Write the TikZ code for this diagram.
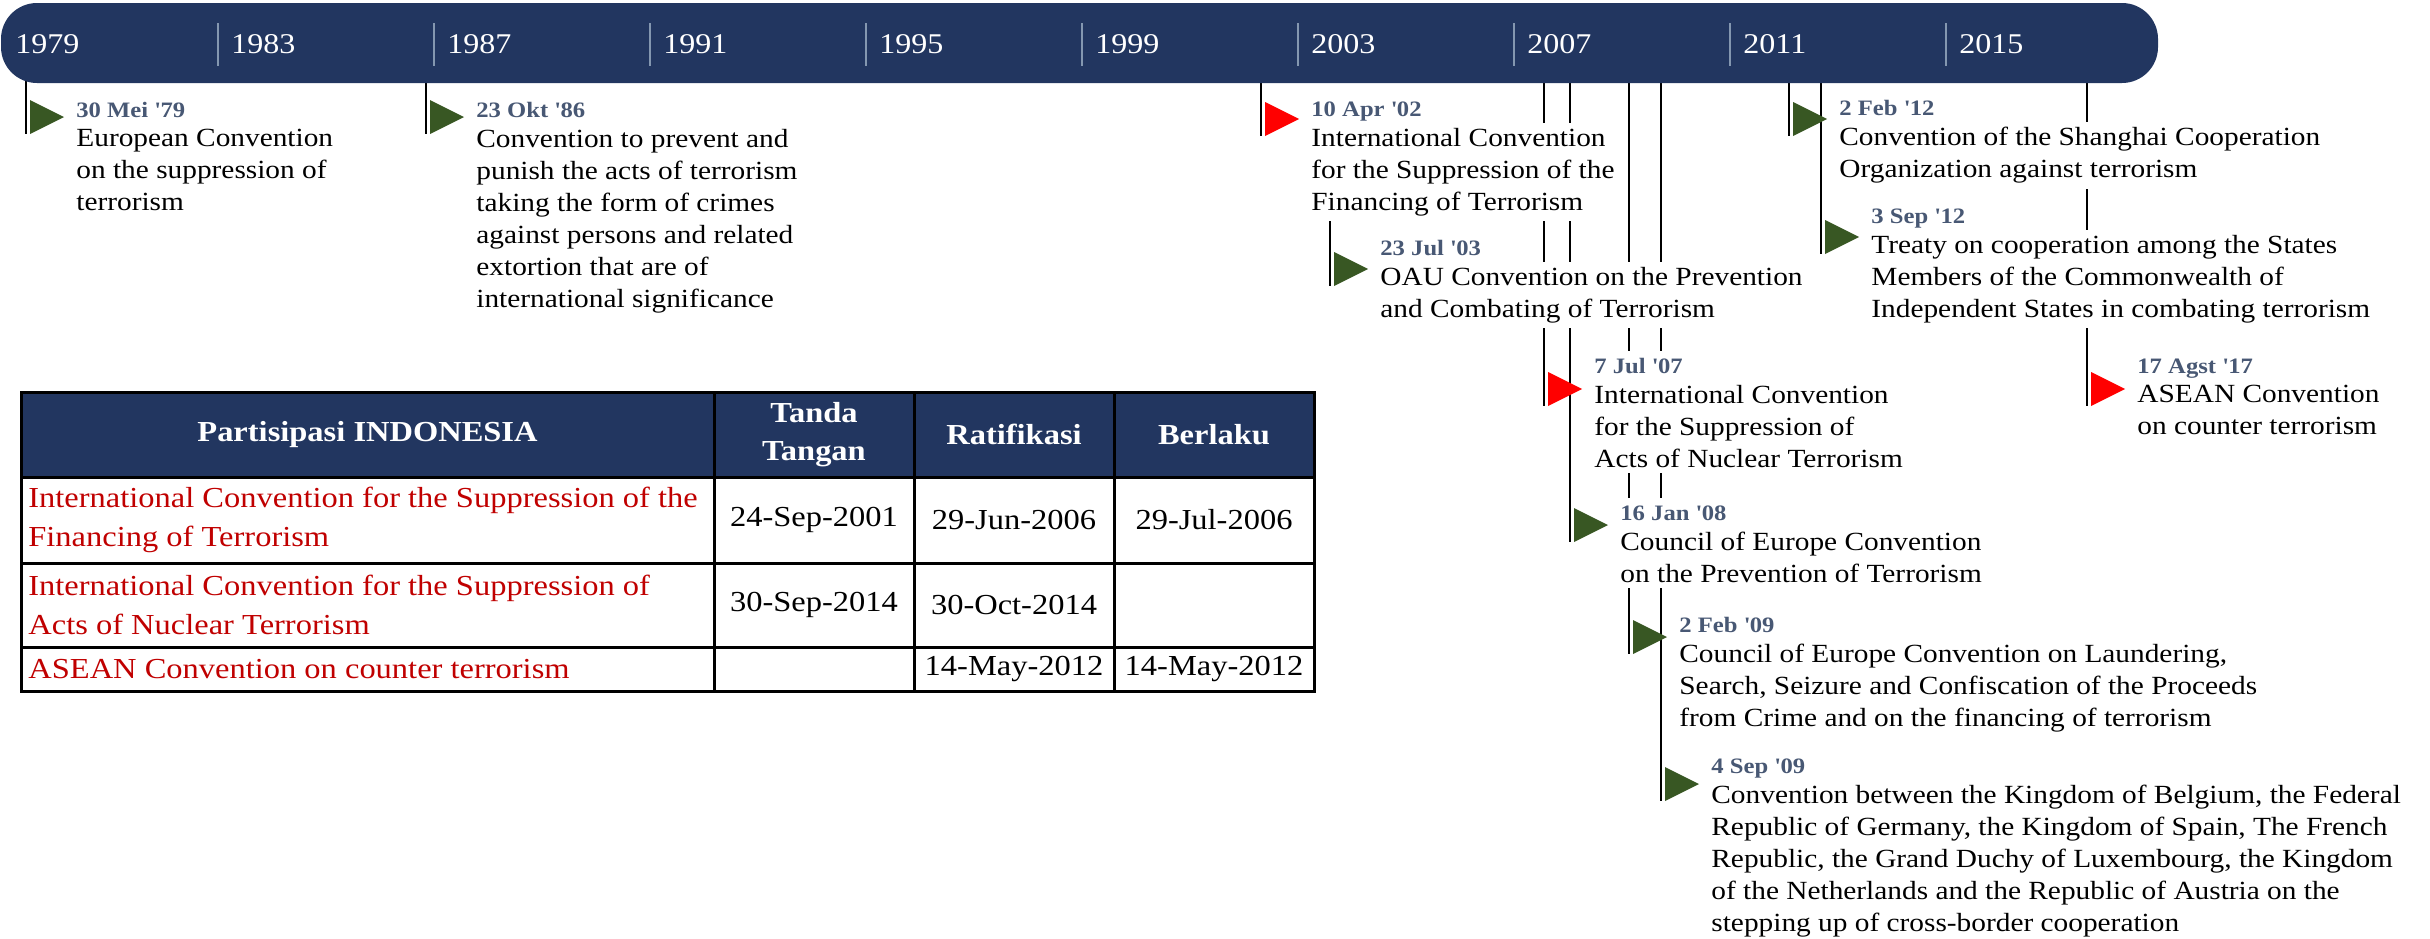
\documentclass[tikz,border=0pt]{standalone}
\usepackage{fontspec}
\setmainfont{Liberation Serif}[FakeStretch=1.12]
\usetikzlibrary{positioning}

\definecolor{navy}{RGB}{34,54,96}
\definecolor{tickgrey}{RGB}{132,151,176}
\definecolor{dategrey}{RGB}{72,88,116}
\definecolor{flaggreen}{RGB}{56,87,35}
\definecolor{flagred}{RGB}{255,0,0}
\definecolor{rowred}{RGB}{192,0,0}

\pgfdeclarelayer{background}
\pgfsetlayers{background,main}

\tikzset{
	yearlbl/.style={text=white,anchor=west,inner sep=0pt,font=\fontsize{14.3}{17}\selectfont},
	datelbl/.style={text=dategrey,anchor=base west,fill=white,inner xsep=2pt,inner ysep=3pt,text height=7.8pt,text depth=2.6pt,font=\bfseries\fontsize{11}{13}\selectfont},
	desc/.style={anchor=north west,align=left,fill=white,inner xsep=2pt,inner ysep=2.5pt,font=\fontsize{13.1}{16}\selectfont,execute at begin node={\rule{0pt}{9pt}}},
	stem/.style={line width=1.3pt},
	rule/.style={line width=1.5pt},
	cell/.style={inner sep=0pt,font=\fontsize{14.5}{19.5}\selectfont},
	headcell/.style={cell,text=white,align=center,font=\bfseries\fontsize{14.5}{19}\selectfont},
	namecell/.style={cell,text=rowred,align=left,anchor=west}
}

\def\events{%
	26/117/117/flaggreen/bar/{30 Mei \textquotesingle79}/{European Convention\\on the suppression of\\terrorism},
	426/117/117/flaggreen/bar/{23 Okt \textquotesingle86}/{Convention to prevent and\\punish the acts of terrorism\\taking the form of crimes\\against persons and related\\extortion that are of\\international significance},
	1261/119/116/flagred/bar/{10 Apr \textquotesingle02}/{International Convention\\for the Suppression of the\\Financing of Terrorism},
	1330/269/255/flaggreen/t3/{23 Jul \textquotesingle03}/{OAU Convention on the Prevention\\and Combating of Terrorism},
	1544/389/373/flagred/bar/{7 Jul \textquotesingle07}/{International Convention\\for the Suppression of\\Acts of Nuclear Terrorism},
	1570/525/520/flaggreen/bar/{16 Jan \textquotesingle08}/{Council of Europe Convention\\on the Prevention of Terrorism},
	1629/637/632/flaggreen/bar/{2 Feb \textquotesingle09}/{Council of Europe Convention on Laundering,\\Search, Seizure and Confiscation of the Proceeds\\from Crime and on the financing of terrorism},
	1661/784/773/flaggreen/bar/{4 Sep \textquotesingle09}/{Convention between the Kingdom of Belgium, the Federal\\Republic of Germany, the Kingdom of Spain, The French\\Republic, the Grand Duchy of Luxembourg, the Kingdom\\of the Netherlands and the Republic of Austria on the\\stepping up of cross-border cooperation},
	1789/119/115/flaggreen/bar/{2 Feb \textquotesingle12}/{Convention of the Shanghai Cooperation\\Organization against terrorism},
	1821/237/223/flaggreen/bar/{3 Sep \textquotesingle12}/{Treaty on cooperation among the States\\Members of the Commonwealth of\\Independent States in combating terrorism},
	2087/389/373/flagred/bar/{17 Agst \textquotesingle17}/{ASEAN Convention\\on counter terrorism}%
}

\begin{document}
\begin{tikzpicture}[x=0.5pt,y=-0.5pt]
	\useasboundingbox (0,0) rectangle (2430,938);

	\node[fill=navy,rounded corners=18pt,minimum width=1078.5pt,minimum height=40pt,inner sep=0pt] (bar) at (1079.5,43) {};
	\foreach \k in {0,...,8}
		\draw[tickgrey,line width=1pt] (218+216*\k,23) -- (218+216*\k,66);
	\foreach \yr [count=\k from 0] in {1979,1983,...,2015}
		\node[yearlbl] (yr\yr) at (15+216*\k,44) {\yr};

	\foreach \lx/\tip/\db/\col/\src/\dt/\txt [count=\n] in \events {
		\coordinate (f\n) at (\lx,\tip);
		\fill[\col] ([xshift=2pt,yshift=8.5pt]f\n) -- ([xshift=19pt]f\n) -- ([xshift=2pt,yshift=-8.5pt]f\n) -- cycle;
		\node[datelbl] (d\n) at (\lx+46,\db) {\dt};
		\node[desc] (t\n) at ([yshift=-3.5pt]d\n.base west) {\txt};
	}

	\begin{pgfonlayer}{background}
		\foreach \lx/\tip/\db/\col/\src/\dt/\txt [count=\n] in \events
			\draw[stem] (\src.center -| f\n) -- ([yshift=-8.5pt]f\n);
	\end{pgfonlayer}

	\fill[navy] (21,392) rectangle (1314,477);
	\draw[rule] (21,392) rectangle (1314,691);
	\foreach \y in {477,563,647}
		\draw[rule] (21,\y) -- (1314,\y);
	\foreach \x in {714,914,1114}
		\draw[rule] (\x,392) -- (\x,691);

	\node[headcell] (h1) at (367.5,434.5) {Partisipasi INDONESIA};
	\node[headcell] (h2) at (814,434.5) {Tanda\\Tangan};
	\node[headcell] (h3) at (1014,434.5) {Ratifikasi};
	\node[headcell] (h4) at (1214,434.5) {Berlaku};

	\node[namecell] (r1) at (28,520) {International Convention for the Suppression of the\\Financing of Terrorism};
	\node[namecell] (r2) at (28,605) {International Convention for the Suppression of\\Acts of Nuclear Terrorism};
	\node[namecell] (r3) at (28,669) {ASEAN Convention on counter terrorism};

	\node[cell] (r1a) at (814,520) {24-Sep-2001};
	\node[cell] (r1b) at (1014,520) {29-Jun-2006};
	\node[cell] (r1c) at (1214,520) {29-Jul-2006};
	\node[cell] (r2a) at (814,605) {30-Sep-2014};
	\node[cell] (r2b) at (1014,605) {30-Oct-2014};
	\node[cell] (r3b) at (1014,669) {14-May-2012};
	\node[cell] (r3c) at (1214,669) {14-May-2012};
\end{tikzpicture}
\end{document}
